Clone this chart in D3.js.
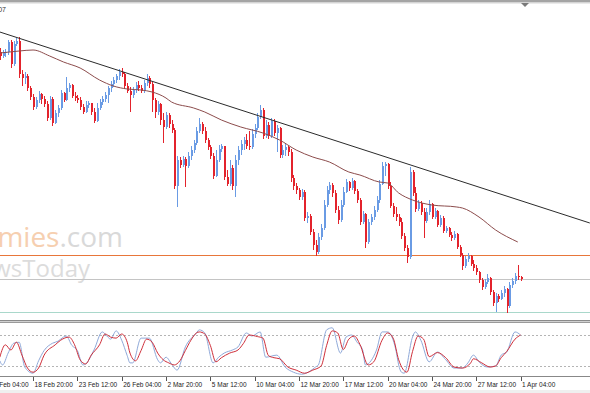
<!DOCTYPE html>
<html>
<head>
<meta charset="utf-8">
<script src="https://cdn.jsdelivr.net/npm/d3@7"></script>
<style>
body{margin:0;background:#fff;}
svg{display:block;font-family:"Liberation Sans",Arial,sans-serif;}
</style>
</head>
<body>
<svg id="chart" width="590" height="393"></svg>
<script>
// H4 candles, bar 0 = 16 Feb 20:00, bar 188 = 1 Apr 04:00 (open = previous close)
const firstOpen = 348;
const closes = [344,347,348,358,336,356,359,326,322,324,312,303,293,300,306,301,296,282,301,277,
287,292,307,300,312,315,304,302,300,293,288,295,297,288,279,292,298,301,305,312,
316,320,324,328,326,314,309,305,310,315,312,309,317,322,316,300,288,296,280,273,
285,276,270,214,240,235,241,234,244,250,257,269,276,269,260,253,244,224,240,251,
254,223,216,232,214,240,250,256,260,254,253,266,272,283,290,264,275,264,279,267,
272,245,250,253,248,222,214,210,203,208,182,184,168,155,148,163,172,195,210,215,
207,190,180,195,208,218,212,219,209,200,178,186,158,178,183,190,200,216,234,236,
214,194,186,183,178,164,152,143,228,207,191,197,188,179,188,196,183,189,175,182,
169,172,165,162,166,153,145,134,141,144,136,132,128,120,113,118,122,108,97,104,
101,107,111,94,115,119,124,123,121];
const highs = [352,350,351,360,360,359,362,363,330,328,326,314,306,303,309,307,304,299,304,303,
290,295,310,308,323,317,316,308,305,303,296,299,299,297,292,297,301,304,308,314,
319,323,326,331,332,328,317,313,313,318,319,315,320,326,324,318,302,299,297,287,
288,287,280,272,244,243,244,243,248,254,260,273,282,278,273,262,255,247,250,255,
256,253,230,240,235,245,254,260,263,266,269,271,276,287,295,292,280,278,282,281,
275,273,255,256,254,251,225,217,212,211,210,188,186,171,160,167,176,200,214,218,
217,210,194,200,213,221,219,222,220,211,202,189,187,181,186,194,204,220,238,238,
237,218,197,193,186,182,167,155,233,230,213,200,199,192,192,200,197,192,190,185,
184,174,173,168,169,167,155,147,144,147,145,140,135,129,122,121,126,123,110,107,
106,110,114,112,118,122,127,135,124];
const lows = [340,342,343,345,332,334,354,322,314,316,309,300,290,291,297,296,293,279,280,274,
276,283,290,298,299,308,302,299,297,290,286,287,292,285,277,278,290,295,298,297,
308,313,317,320,323,311,307,288,302,307,309,307,307,314,312,288,282,285,275,257,
271,272,267,211,193,232,233,213,232,240,247,255,267,266,257,250,241,221,223,238,
248,220,214,214,210,203,235,245,250,251,250,251,262,270,281,261,262,261,262,264,
248,242,242,244,244,218,210,206,200,200,179,177,165,150,144,146,160,170,193,206,
203,187,176,178,193,207,209,210,206,197,175,176,152,156,175,180,188,197,215,224,
211,192,183,179,174,161,149,137,141,204,188,189,185,162,177,185,181,181,173,173,
167,167,163,159,160,151,143,130,132,138,134,129,125,117,110,111,116,105,94,88,
98,100,103,87,92,112,116,120,119];

// moving average, [bar, value]
const maPoints = [[0,347],[7,349],[12,350],[18,344],[23,338],[29,332],[36,320],[41,314],[46,311],[51,310],
[55,308],[60,302],[62,298],[70,292],[74,288],[80,280],[87,273],[95,267],[101,260],[107,250],
[113,243],[119,238],[126,228],[130,225],[137,218],[140,217],[144,207],[149,200],[156,195],[165,193],
[167,192],[173,183],[179,170],[187,158]];
// trend line end points, [bar, value]
const trendPoints = [[0,368],[213,177]];
// horizontal lines: support, bid, lower support
const levelValues = [145,121,88];

// stochastic main (%K) and signal (%D), [bar, value]
const stochK = [[0,30],[1,22],[3,45],[5,64],[7,66],[9,18],[12,6],[14,30],[16,50],[19,64],[21,68],[23,76],[24,78],
[26,60],[28,50],[30,22],[31,24],[34,51],[37,86],[39,76],[40,72],[42,88],[44,70],[46,40],[47,26],[48,26],
[51,74],[54,74],[57,32],[58,26],[60,37],[62,24],[64,12],[67,57],[71,84],[72,90],[74,84],[77,26],[79,37],
[81,45],[84,51],[86,57],[89,84],[91,78],[94,86],[96,37],[100,41],[103,18],[106,8],[109,4],[112,10],[114,18],
[115,22],[118,90],[120,94],[123,45],[125,76],[127,80],[129,66],[131,51],[132,22],[134,30],[136,51],[138,86],
[140,86],[143,51],[144,22],[145,8],[146,6],[149,76],[150,86],[152,70],[155,28],[158,47],[161,32],[164,16],
[167,16],[169,26],[171,41],[173,28],[176,18],[179,20],[181,41],[183,47],[186,86],[188,80]];
const stochD = [[0,37],[2,61],[4,51],[6,66],[8,41],[10,16],[12,8],[14,16],[16,41],[20,61],[22,70],[25,76],
[27,61],[29,32],[31,24],[33,41],[36,61],[38,82],[40,76],[42,74],[44,82],[46,66],[47,45],[49,30],[51,50],
[53,72],[55,66],[57,45],[59,32],[61,26],[63,22],[65,30],[67,50],[69,70],[71,84],[72,86],[74,82],[76,60],
[78,28],[80,36],[83,45],[86,51],[88,64],[90,80],[93,77],[95,74],[97,40],[99,36],[101,34],[104,18],[107,12],
[110,6],[113,12],[116,20],[118,60],[120,88],[122,84],[124,52],[126,72],[128,78],[130,62],[133,22],[135,28],
[138,70],[140,84],[142,74],[144,32],[147,8],[149,48],[151,78],[153,72],[155,38],[158,46],[161,36],[164,18],
[167,16],[170,26],[171,34],[174,26],[177,18],[179,20],[181,36],[183,48],[186,72],[188,80]];
const stochLevels = [80,20];

// time axis
const tickBars = [-4,12,28,44,60,76,92,108,124,140,156,172,188];
const tickLabels = ["16 Feb 04:00","18 Feb 20:00","23 Feb 12:00","26 Feb 04:00","2 Mar 20:00","5 Mar 12:00",
"10 Mar 04:00","12 Mar 20:00","17 Mar 12:00","20 Mar 04:00","24 Mar 20:00","27 Mar 12:00","1 Apr 04:00"];

const W = 590, H = 393;
const svg = d3.select("#chart");

// scales
const x = d3.scaleLinear().domain([0,213]).range([-0.2,589.8]);
const y = d3.scaleLinear().domain([80,397]).range([320,3]);
const ys = d3.scaleLinear().domain([0,100]).range([376.3,324.7]);

const bull = "#6a9be4", bear = "#e3232c";

// watermark
const wm = svg.append("g");
wm.append("text").attr("x",123).attr("y",247).attr("text-anchor","end")
	.style("font-family","'Open Sans',sans-serif").style("font-size","28px")
	.html('<tspan fill="#f6cfb0">Economies</tspan><tspan fill="#d9d9d9">.com</tspan>');
wm.append("text").attr("x",90).attr("y",277).attr("text-anchor","end")
	.style("font-family","'Open Sans',sans-serif").style("font-size","24px").attr("fill","#dcdcdc")
	.text("NewsToday");

// top frame
svg.append("rect").attr("x",0).attr("y",0).attr("width",W).attr("height",2.5).attr("fill","#a4a4a4");
svg.append("line").attr("x1",0).attr("x2",W).attr("y1",3).attr("y2",3).attr("stroke","#d6d6d6");
svg.append("path").attr("d","M521,3L529,3L525,7Z").attr("fill","#7a7a7a");
svg.append("text").attr("x",6).attr("y",12).attr("text-anchor","end")
	.style("font-size","7px").attr("fill","#333").text("1.0507");

// horizontal levels
const levelColors = ["#e8763a","#c4c4c4","#a9d8cb"];
svg.selectAll(".level").data(levelValues).enter().append("line")
	.attr("x1",0).attr("x2",W)
	.attr("y1",d=>Math.round(y(d))+0.5).attr("y2",d=>Math.round(y(d))+0.5)
	.attr("stroke",(d,i)=>levelColors[i]).attr("stroke-width",1);

// candles
const candles = closes.map((c,i)=>({i:i,o:i===0?firstOpen:closes[i-1],c:c,h:highs[i],l:lows[i]}));
const g = svg.append("g").attr("shape-rendering","crispEdges");
g.selectAll(".wick").data(candles).enter().append("line")
	.attr("x1",d=>Math.round(x(d.i))+0.5).attr("x2",d=>Math.round(x(d.i))+0.5)
	.attr("y1",d=>y(d.h)).attr("y2",d=>y(d.l))
	.attr("stroke",d=>d.c>=d.o?bull:bear);
g.selectAll(".body").data(candles).enter().append("rect")
	.attr("x",d=>Math.round(x(d.i)))
	.attr("y",d=>y(Math.max(d.o,d.c)))
	.attr("width",2)
	.attr("height",d=>Math.max(1,Math.abs(y(d.o)-y(d.c))))
	.attr("fill",d=>d.c>=d.o?bull:bear);

// moving average + trend line
const line = d3.line().x(d=>x(d[0])).y(d=>y(d[1]));
svg.append("path").datum(maPoints).attr("d",line.curve(d3.curveMonotoneX))
	.attr("fill","none").attr("stroke","#8c4c4c").attr("stroke-width",1);
svg.append("path").datum(trendPoints).attr("d",d3.line().x(d=>x(d[0])).y(d=>y(d[1])))
	.attr("fill","none").attr("stroke","#2b2b2b").attr("stroke-width",1);

// window separator
svg.append("rect").attr("x",0).attr("y",320).attr("width",W).attr("height",3).attr("fill","#d0d0d0");
svg.append("line").attr("x1",0).attr("x2",W).attr("y1",320.5).attr("y2",320.5).attr("stroke","#8a8a8a");
svg.append("line").attr("x1",0).attr("x2",W).attr("y1",322.5).attr("y2",322.5).attr("stroke","#9a9a9a");

// stochastic window
svg.selectAll(".slevel").data(stochLevels).enter().append("line")
	.attr("x1",0).attr("x2",W)
	.attr("y1",d=>Math.round(ys(d))+0.5).attr("y2",d=>Math.round(ys(d))+0.5)
	.attr("stroke","#b4b4b4").attr("stroke-dasharray","2,2");
const sline = d3.line().x(d=>x(d[0])).y(d=>ys(d[1])).curve(d3.curveMonotoneX);
svg.append("path").datum(stochK).attr("d",sline)
	.attr("fill","none").attr("stroke","#8fa9d9").attr("stroke-width",1);
svg.append("path").datum(stochD).attr("d",sline)
	.attr("fill","none").attr("stroke","#cf2f3a").attr("stroke-width",1);

// time axis
svg.append("line").attr("x1",0).attr("x2",W).attr("y1",376.5).attr("y2",376.5).attr("stroke","#888");
const ax = svg.append("g");
ax.selectAll(".tick").data(tickBars).enter().append("line")
	.attr("x1",d=>Math.round(x(d))+0.5).attr("x2",d=>Math.round(x(d))+0.5)
	.attr("y1",377).attr("y2",381).attr("stroke","#555");
ax.selectAll(".lbl").data(tickBars).enter().append("text")
	.attr("x",d=>x(d)+1.5).attr("y",386.5)
	.style("font-size","6.5px").attr("fill","#222")
	.text((d,i)=>tickLabels[i]);
svg.append("rect").attr("x",0).attr("y",390).attr("width",W).attr("height",3).attr("fill","#efefef");
</script>
</body>
</html>
